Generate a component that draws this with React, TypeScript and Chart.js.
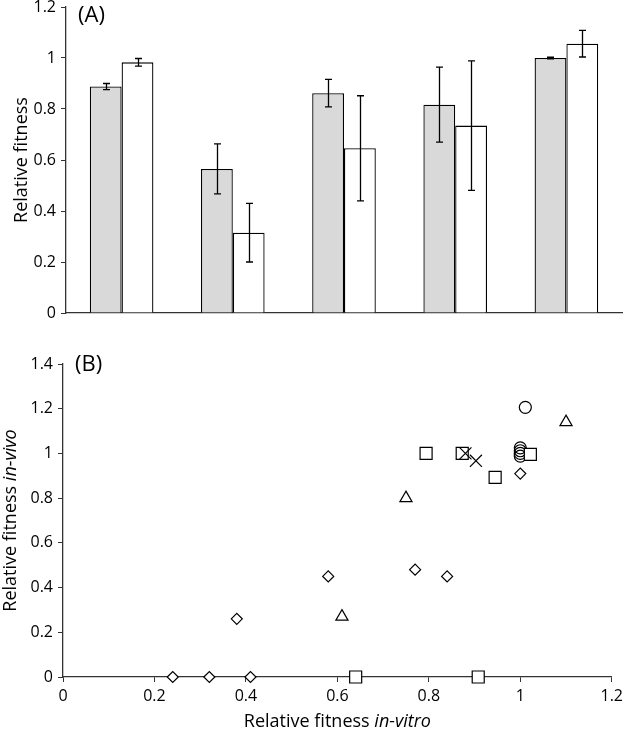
import React, { useEffect, useRef } from 'react';
import { Chart, registerables } from 'chart.js';

Chart.register(...registerables);

const FONT = '"Open Sans", "Noto Sans", sans-serif';

// ---- Panel (A) data ----
const groups = ['1', '2', '3', '4', '5'];
const inVitroMean = [0.888, 0.565, 0.862, 0.817, 1.0];
const inVitroErr = [0.012, 0.098, 0.054, 0.147, 0.003];
const inVivoMean = [0.983, 0.315, 0.646, 0.735, 1.056];
const inVivoErr = [0.015, 0.115, 0.206, 0.254, 0.052];
const yTicksA = [0, 0.2, 0.4, 0.6, 0.8, 1, 1.2];

// ---- Panel (B) data ----
const diamondX = [0.24, 0.32, 0.41, 0.38, 0.58, 0.77, 0.84, 1.0];
const diamondY = [0, 0, 0, 0.26, 0.45, 0.48, 0.45, 0.91];
const triangleX = [0.61, 0.75, 1.1];
const triangleY = [0.27, 0.8, 1.14];
const squareX = [0.64, 0.908, 0.794, 0.873, 0.945, 1.022];
const squareY = [0, 0, 1.0, 1.0, 0.893, 0.996];
const crossX = [0.88, 0.903];
const crossY = [1.0, 0.967];
const circleX = [1.011, 1.0, 1.0, 1.0, 1.0];
const circleY = [1.206, 1.025, 1.012, 1.0, 0.988];
const xTicksB = [0, 0.2, 0.4, 0.6, 0.8, 1, 1.2];
const yTicksB = [0, 0.2, 0.4, 0.6, 0.8, 1, 1.2, 1.4];

const zip = (xs: number[], ys: number[]) => xs.map((x, i) => ({ x, y: ys[i] }));

type Part = { text: string; italic?: boolean };

function drawRich(ctx: CanvasRenderingContext2D, parts: Part[], x: number, y: number, rotate: boolean, size: number) {
  ctx.save();
  ctx.translate(x, y);
  if (rotate) ctx.rotate(-Math.PI / 2);
  ctx.textBaseline = 'alphabetic';
  ctx.textAlign = 'left';
  ctx.fillStyle = '#000';
  const widths = parts.map((p) => {
    ctx.font = `${p.italic ? 'italic ' : ''}${size}px ${FONT}`;
    return ctx.measureText(p.text).width;
  });
  const total = widths.reduce((a, b) => a + b, 0);
  let cx = -total / 2;
  parts.forEach((p, i) => {
    ctx.font = `${p.italic ? 'italic ' : ''}${size}px ${FONT}`;
    ctx.fillText(p.text, cx, 0);
    cx += widths[i];
  });
  ctx.restore();
}

const errorBarsPlugin = {
  id: 'errorBars',
  afterDatasetsDraw(chart: any) {
    const ctx = chart.ctx;
    const ys = chart.scales.y;
    ctx.save();
    ctx.strokeStyle = '#000';
    ctx.lineWidth = 1.3;
    chart.data.datasets.forEach((ds: any, i: number) => {
      const meta = chart.getDatasetMeta(i);
      meta.data.forEach((bar: any, j: number) => {
        const v = ds.data[j];
        const e = ds.errors[j];
        const x = Math.round(bar.x) + 0.5;
        const yt = ys.getPixelForValue(v + e);
        const yb = ys.getPixelForValue(v - e);
        ctx.beginPath();
        ctx.moveTo(x, yt);
        ctx.lineTo(x, yb);
        ctx.moveTo(x - 3.5, yt);
        ctx.lineTo(x + 3.5, yt);
        ctx.moveTo(x - 3.5, yb);
        ctx.lineTo(x + 3.5, yb);
        ctx.stroke();
      });
    });
    ctx.restore();
  },
};

function labelsPlugin(panel: string, yTitle: Part[], yTitleX: number, xTitle: Part[] | null, xTitleY: number, panelBaseline: number) {
  return {
    id: 'labels' + panel,
    afterDraw(chart: any) {
      const ctx = chart.ctx;
      const a = chart.chartArea;
      drawRich(ctx, yTitle, yTitleX, (a.top + a.bottom) / 2, true, 18);
      if (xTitle) drawRich(ctx, xTitle, (a.left + a.right) / 2, xTitleY, false, 18);
      ctx.save();
      ctx.font = `22px ${FONT}`;
      ctx.fillStyle = '#000';
      ctx.textAlign = 'left';
      ctx.textBaseline = 'alphabetic';
      ctx.fillText(panel, a.left + 12, panelBaseline);
      ctx.restore();
    },
  };
}

const tickFont = { family: FONT, size: 16 };
const AXIS = '#333';

export default function App() {
  const refA = useRef<HTMLCanvasElement>(null);
  const refB = useRef<HTMLCanvasElement>(null);

  useEffect(() => {
    const chartA = new Chart(refA.current!, {
      type: 'bar',
      data: {
        labels: groups,
        datasets: [
          {
            label: 'in vitro',
            data: inVitroMean,
            errors: inVitroErr,
            backgroundColor: '#d9d9d9',
            borderColor: '#000',
            borderWidth: 1.3,
          } as any,
          {
            label: 'in vivo',
            data: inVivoMean,
            errors: inVivoErr,
            backgroundColor: '#ffffff',
            borderColor: '#000',
            borderWidth: 1.3,
          } as any,
        ],
      },
      options: {
        responsive: false,
        animation: false,
        devicePixelRatio: 1,
        layout: { padding: { top: 7, right: 6, left: 0, bottom: 0 } },
        plugins: { legend: { display: false }, tooltip: { enabled: false } },
        datasets: { bar: { categoryPercentage: 0.572, barPercentage: 1 } },
        scales: {
          x: {
            grid: { display: false },
            border: { display: true, color: AXIS, width: 1.3 },
            ticks: { display: false },
            afterFit: (s: any) => {
              s.height = 17;
              s.paddingLeft = 0;
              s.paddingRight = 0;
            },
          },
          y: {
            min: 0,
            max: 1.2,
            afterBuildTicks: (s: any) => {
              s.ticks = yTicksA.map((v) => ({ value: v }));
            },
            ticks: { font: tickFont, color: '#000', padding: 5, callback: (v: any) => String(v) },
            grid: { drawOnChartArea: false, drawTicks: true, tickLength: 5, color: AXIS, lineWidth: 1 },
            border: { display: true, color: AXIS, width: 1.3 },
            afterFit: (s: any) => {
              s.width = 66;
              s.paddingTop = 0;
              s.paddingBottom = 0;
            },
          },
        },
      } as any,
      plugins: [errorBarsPlugin, labelsPlugin('(A)', [{ text: 'Relative fitness' }], 27, null, 0, 22) as any],
    });

    const pointBase = {
      pointBorderColor: '#000',
      pointBorderWidth: 1.2,
      clip: false,
      showLine: false,
    };

    const chartB = new Chart(refB.current!, {
      type: 'scatter',
      data: {
        datasets: [
          { ...pointBase, label: 'x', data: zip(crossX, crossY), pointStyle: 'crossRot', pointRadius: 8.5, pointBackgroundColor: 'rgba(0,0,0,0)' },
          { ...pointBase, label: 'square', data: zip(squareX, squareY), pointStyle: 'rect', pointRadius: 8.5, pointBackgroundColor: '#fff' },
          { ...pointBase, label: 'circle', data: zip(circleX, circleY), pointStyle: 'circle', pointRadius: 6, pointBackgroundColor: 'rgba(0,0,0,0)' },
          { ...pointBase, label: 'triangle', data: zip(triangleX, triangleY), pointStyle: 'triangle', pointRadius: 7, pointBackgroundColor: '#fff' },
          { ...pointBase, label: 'diamond', data: zip(diamondX, diamondY), pointStyle: 'rectRot', pointRadius: 5.5, pointBackgroundColor: '#fff' },
        ] as any,
      },
      options: {
        responsive: false,
        animation: false,
        devicePixelRatio: 1,
        layout: { padding: { top: 34, right: 12, left: 0, bottom: 0 } },
        plugins: { legend: { display: false }, tooltip: { enabled: false } },
        scales: {
          x: {
            type: 'linear',
            min: 0,
            max: 1.2,
            afterBuildTicks: (s: any) => {
              s.ticks = xTicksB.map((v) => ({ value: v }));
            },
            ticks: { font: tickFont, color: '#000', padding: 5, callback: (v: any) => String(v) },
            grid: { drawOnChartArea: false, drawTicks: true, tickLength: 5, color: AXIS, lineWidth: 1 },
            border: { display: true, color: AXIS, width: 1.3 },
            afterFit: (s: any) => {
              s.height = 54;
            },
          },
          y: {
            type: 'linear',
            min: 0,
            max: 1.4,
            afterBuildTicks: (s: any) => {
              s.ticks = yTicksB.map((v) => ({ value: v }));
            },
            ticks: { font: tickFont, color: '#000', padding: 5, callback: (v: any) => String(v) },
            grid: { drawOnChartArea: false, drawTicks: true, tickLength: 5, color: AXIS, lineWidth: 1 },
            border: { display: true, color: AXIS, width: 1.3 },
            afterFit: (s: any) => {
              s.width = 63;
              s.paddingTop = 0;
              s.paddingBottom = 0;
            },
          },
        },
      } as any,
      plugins: [
        labelsPlugin(
          '(B)',
          [{ text: 'Relative fitness ' }, { text: 'in-vivo', italic: true }],
          16,
          [{ text: 'Relative fitness ' }, { text: 'in-vitro', italic: true }],
          397,
          41
        ) as any,
      ],
    });

    return () => {
      chartA.destroy();
      chartB.destroy();
    };
  }, []);

  return (
    <div style={{ position: 'absolute', left: 0, top: 0, width: 628, height: 731, background: '#fff' }}>
      <canvas ref={refA} width={628} height={330} style={{ display: 'block', width: 628, height: 330 }} />
      <canvas ref={refB} width={628} height={401} style={{ display: 'block', width: 628, height: 401 }} />
    </div>
  );
}
